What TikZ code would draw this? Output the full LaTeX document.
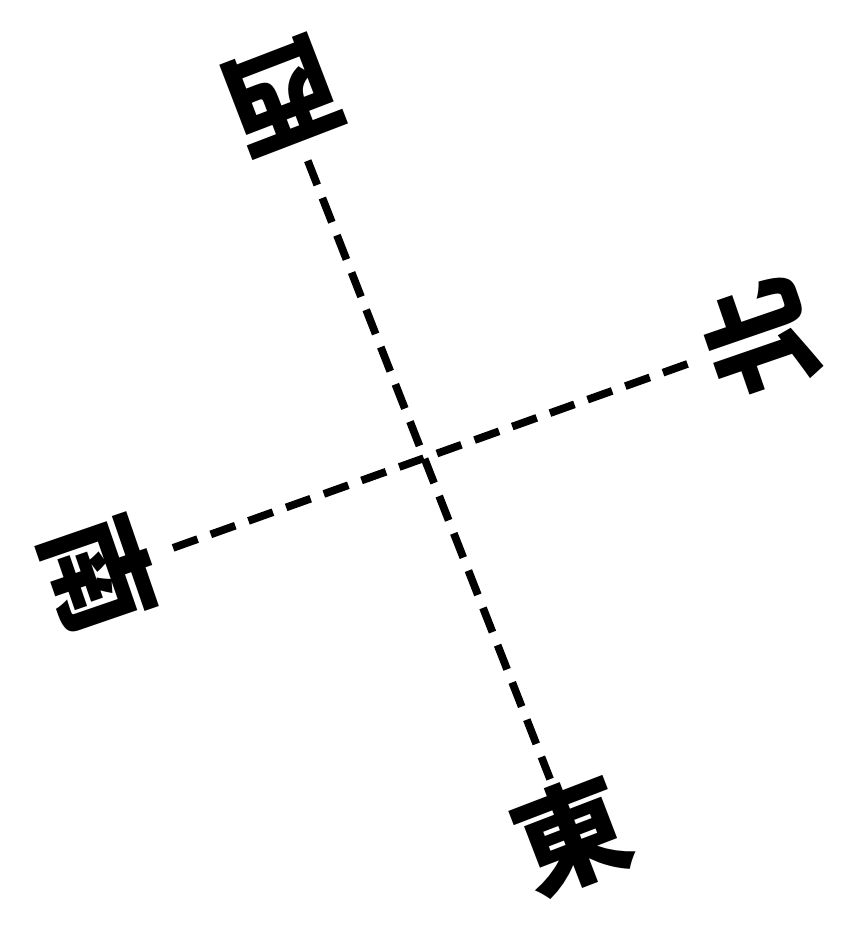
\documentclass[tikz,border=0pt]{standalone}
\usepackage{fontspec}
\newfontfamily\cjk{Noto Sans CJK TC}
\tikzset{
  glyph/.style={inner sep=0pt, outer sep=0pt, minimum size=1.2cm, font=\cjk\bfseries\fontsize{32}{32}\selectfont},
  dashline/.style={line width=2.2pt, dash pattern=on 0.26cm off 0.14cm, line cap=butt}
}
\begin{document}
\begin{tikzpicture}[x=0.01cm,y=-0.01cm]
\useasboundingbox[fill=white] (0,0) rectangle (863,939);
\node[glyph, rotate=201] (xi) at (282,95) {西};
\node[glyph, rotate=109] (bei) at (760,338) {北};
\node[glyph, rotate=-71] (nan) at (100,574) {南};
\node[glyph, rotate=21] (dong) at (572,835) {東};
\draw[dashline, shorten <=3pt] (xi) -- (dong);
\draw[dashline, shorten <=5pt, shorten >=4pt] (nan) -- (bei);
\end{tikzpicture}
\end{document}
